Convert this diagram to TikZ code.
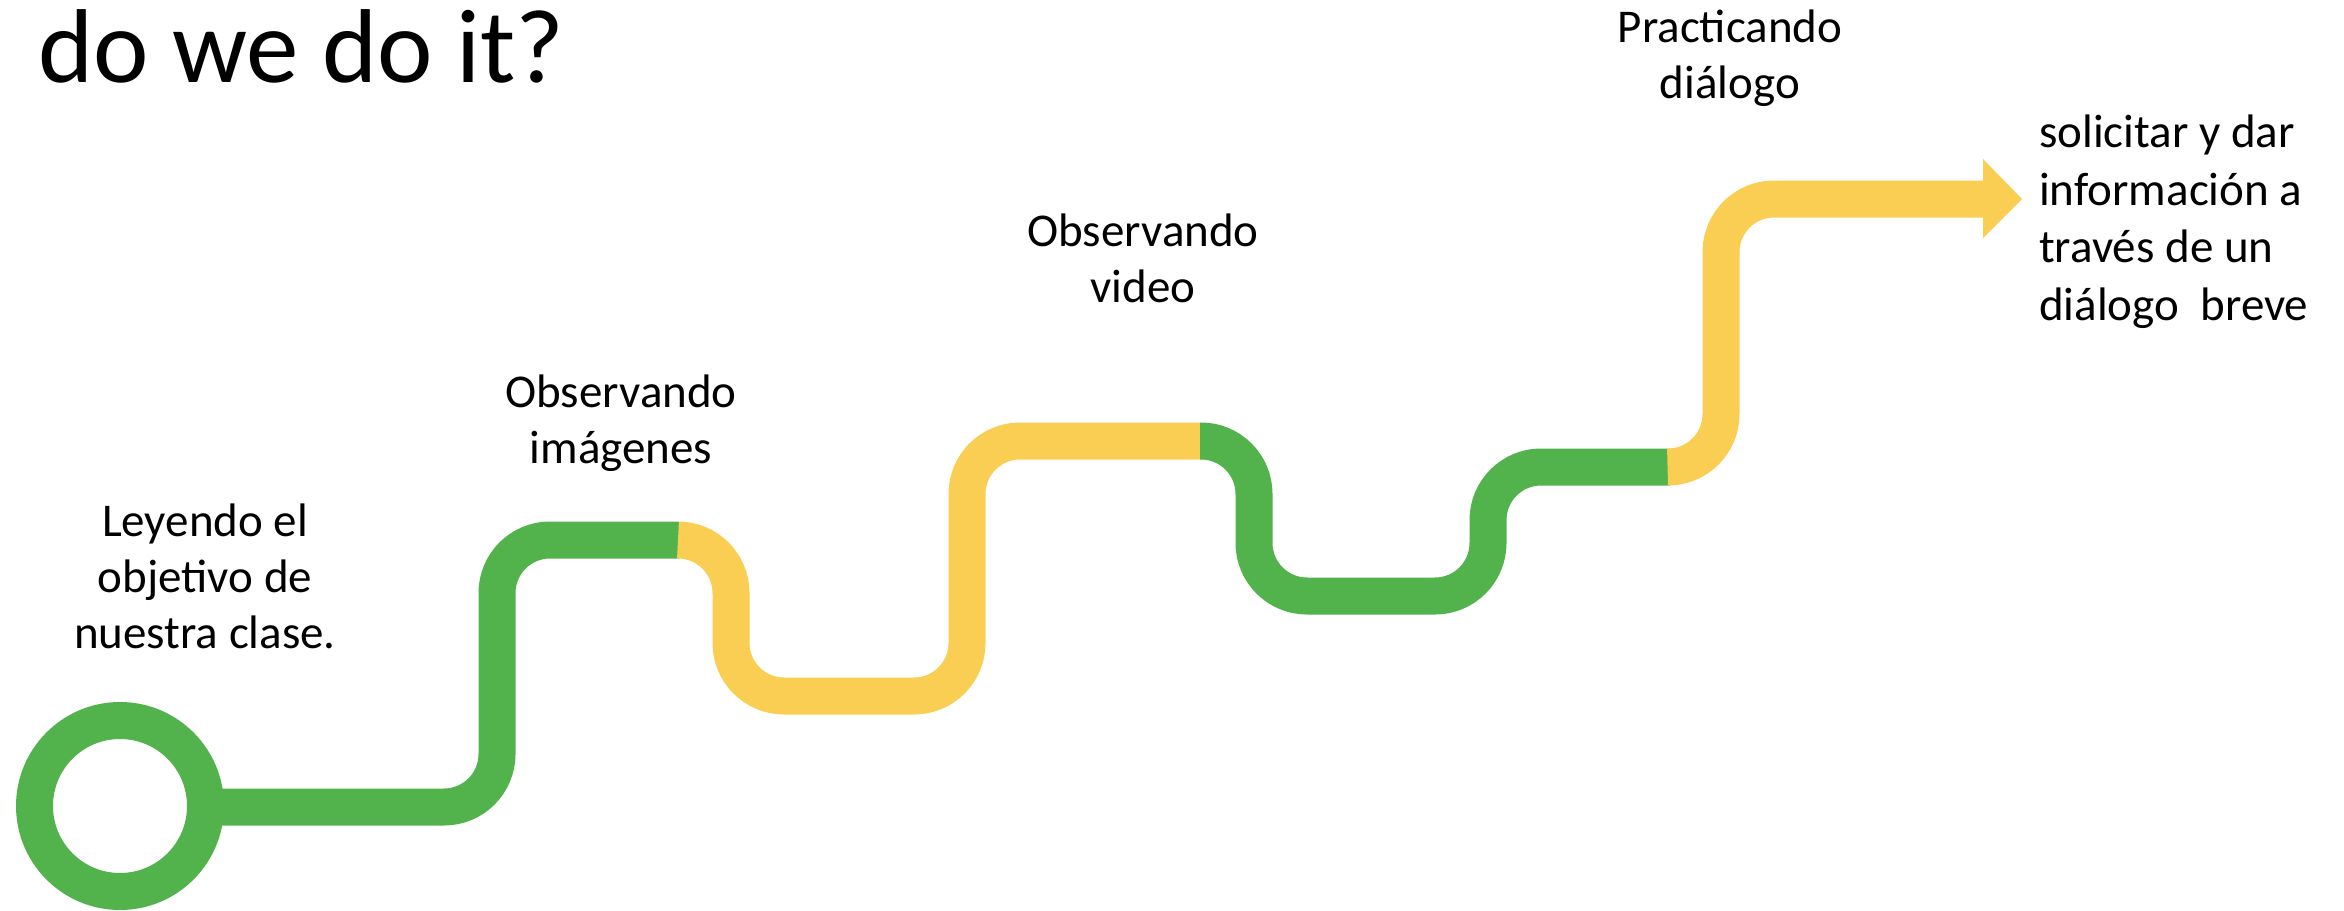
\documentclass[tikz,border=0pt]{standalone}
\usepackage{fontspec}
\setmainfont{Carlito}
\definecolor{verdecamino}{RGB}{82,179,77}
\definecolor{amarillocamino}{RGB}{249,206,83}
\tikzstyle{camino} = [line width=37pt, rounded corners=53pt]
\tikzstyle{tramoverde} = [camino, draw=verdecamino]
\tikzstyle{tramoamarillo} = [camino, draw=amarillocamino]
\tikzstyle{etiqueta} = [inner sep=0pt, align=center, font=\fontsize{47}{56}\selectfont]

\begin{document}
\begin{tikzpicture}[x=1pt, y=-1pt]
  \useasboundingbox (0,0) rectangle (2344,910);
  % Título
  \node (titulo) [anchor=base west, inner sep=0pt, font=\fontsize{105}{120}\selectfont] at (38,82) {do we do it?};
  % Camino
  \draw [tramoverde] (120,806) circle (85.5pt);
  \draw [tramoverde] (205,807) -- (497,807) -- (497,540) -- (679,540);
  \draw [tramoamarillo] (678,540) -- (731,540) -- (731,696) -- (967,696) -- (967,441) -- (1201,441);
  \draw [tramoverde] (1200,441) -- (1254,441) -- (1254,596) -- (1488,596) -- (1488,467) -- (1670,467);
  \draw [tramoamarillo] (1669,467) -- (1721,467) -- (1721,199) -- (1984,199);
  % Punta
  \fill [amarillocamino] (1983,159) -- (2022,199) -- (1983,238) -- cycle;
  % Etiquetas (anchor base = última línea)
  \node (leyendo) [etiqueta, anchor=base] at (205,648) {Leyendo el\\objetivo de\\nuestra clase.};
  \node (imagenes) [etiqueta, anchor=base] at (621,463) {Observando\\imágenes};
  \node (video) [etiqueta, anchor=base] at (1143,302) {Observando\\video};
  \node (dialogo) [etiqueta, anchor=base] at (1730,98) {Practicando\\diálogo};
  \node (meta) [etiqueta, align=left, anchor=base west, font=\fontsize{47}{57.5}\selectfont] at (2039,320) {solicitar y dar\\información a\\través de un\\diálogo~~breve};
\end{tikzpicture}
\end{document}
